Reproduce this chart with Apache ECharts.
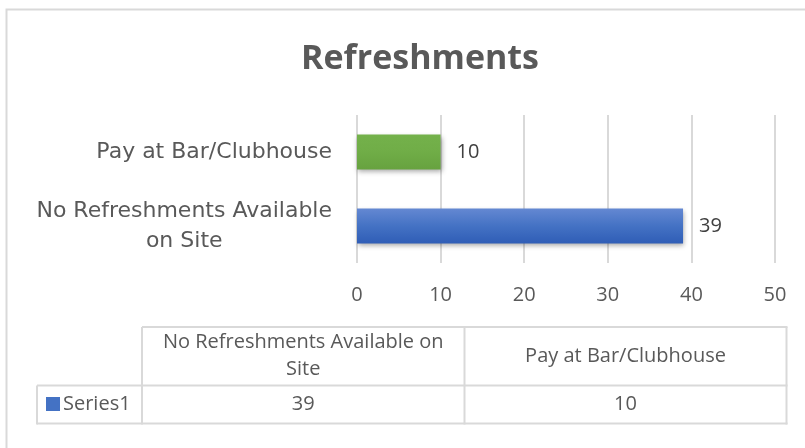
<!DOCTYPE html>
<html>
<head>
<meta charset="utf-8">
<script src="https://cdn.jsdelivr.net/npm/echarts@6/dist/echarts.min.js"></script>
<style>
html,body{margin:0;padding:0;background:#fff;}
#chart{width:805px;height:448px;}
</style>
</head>
<body>
<div id="chart"></div>
<script>
// ---- data ----
var titleText = 'Refreshments';
var categories = ['No Refreshments Available on Site', 'Pay at Bar/Clubhouse'];
var seriesName = 'Series1';
var values = [39, 10];
var xTicks = [0, 10, 20, 30, 40, 50];

// ---- styles ----
var catFamily = 'DejaVu Sans';
var catSize = 22;
var catFont = catSize + 'px "' + catFamily + '"';
var catWrap = 312;
var tableFontSize = 20;
var tableFontFamily = '"Open Sans"';
var gray = '#595959';
var lineGray = '#d9d9d9';

var measureCtx = document.createElement('canvas').getContext('2d');
function wrap(text, font, maxW) {
  measureCtx.font = font;
  var words = text.split(' '), lines = [], cur = '';
  words.forEach(function (w) {
    var t = cur ? cur + ' ' + w : w;
    if (cur && measureCtx.measureText(t).width > maxW) { lines.push(cur); cur = w; }
    else cur = t;
  });
  if (cur) lines.push(cur);
  return lines;
}
function maxWidth(lines, font) {
  measureCtx.font = font;
  return Math.max.apply(null, lines.map(function (l) { return measureCtx.measureText(l).width; }));
}

var barColors = [
  new echarts.graphic.LinearGradient(0, 0, 0, 1, [
    {offset: 0, color: '#6488d2'}, {offset: 0.5, color: '#4472c4'}, {offset: 1, color: '#2f5db6'}]),
  new echarts.graphic.LinearGradient(0, 0, 0, 1, [
    {offset: 0, color: '#74b14b'}, {offset: 0.5, color: '#70ad47'}, {offset: 1, color: '#67a23f'}])
];

var chart = echarts.init(document.getElementById('chart'), null, {renderer: 'canvas'});

// table geometry
var tX0 = 37, tX1 = 142, tX2 = 464.5, tX3 = 786.5;
var tY0 = 327, tY1 = 385.5, tY2 = 423.5;
var colCenters = [(tX1 + tX2) / 2, (tX2 + tX3) / 2];
var tableFont = tableFontSize + 'px ' + tableFontFamily;

var graphics = [];
// chart outer border
graphics.push({type: 'rect', shape: {x: 6.5, y: 9.5, width: 900, height: 600},
  style: {fill: null, stroke: lineGray, lineWidth: 2}, silent: true});
function hline(x1, x2, y) {
  graphics.push({type: 'line', shape: {x1: x1, y1: y, x2: x2, y2: y}, style: {stroke: lineGray, lineWidth: 2}});
}
function vline(x, y1, y2) {
  graphics.push({type: 'line', shape: {x1: x, y1: y1, x2: x, y2: y2}, style: {stroke: lineGray, lineWidth: 2}});
}
hline(tX1, tX3 + 1, tY0);
hline(tX0, tX3 + 1, tY1);
hline(tX0, tX3 + 1, tY2);
vline(tX0, tY1, tY2 + 1);
vline(tX1, tY0, tY2 + 1);
vline(tX2, tY0, tY2 + 1);
vline(tX3, tY0, tY2 + 1);

categories.forEach(function (c, i) {
  var lines = wrap(c, tableFont, 300);
  graphics.push({type: 'text', x: colCenters[i], y: (tY0 + tY1) / 2,
    style: {text: lines.join('\n'), font: tableFont, fill: gray, align: 'center', verticalAlign: 'middle', lineHeight: 27}});
  graphics.push({type: 'text', x: colCenters[i], y: (tY1 + tY2) / 2,
    style: {text: String(values[i]), font: tableFont, fill: gray, align: 'center', verticalAlign: 'middle'}});
});
graphics.push({type: 'rect', shape: {x: 46, y: 397, width: 14, height: 14}, style: {fill: '#4472c4'}});
graphics.push({type: 'text', x: 63, y: (tY1 + tY2) / 2,
  style: {text: seriesName, font: tableFont, fill: gray, align: 'left', verticalAlign: 'middle'}});

var option = {
  animation: false,
  backgroundColor: '#ffffff',
  title: {
    text: titleText, left: 415, top: 37, textAlign: 'center',
    textStyle: {fontFamily: 'Open Sans', fontWeight: 'bold', fontSize: 34, color: gray}
  },
  grid: {left: 357, top: 115, width: 418, height: 148, containLabel: false},
  xAxis: {
    type: 'value', min: xTicks[0], max: xTicks[xTicks.length - 1], interval: xTicks[1] - xTicks[0],
    axisLine: {show: false}, axisTick: {show: false},
    splitLine: {show: true, lineStyle: {color: lineGray, width: 2}},
    axisLabel: {fontFamily: 'Open Sans', fontSize: 20, color: gray, margin: 22}
  },
  yAxis: {
    type: 'category', data: categories,
    axisLine: {show: false}, axisTick: {show: false},
    axisLabel: {
      margin: 25, align: 'right', color: gray,
      fontFamily: catFamily, fontSize: catSize, lineHeight: 30,
      formatter: function (v) {
        var lines = wrap(v, catFont, catWrap);
        if (lines.length === 1) return v;
        return lines.map(function (l) { return '{c|' + l + '}'; }).join('\n');
      },
      rich: {c: {width: maxWidth(wrap(categories[0], catFont, catWrap), catFont), align: 'center',
        fontFamily: catFamily, fontSize: catSize, lineHeight: 30, color: gray}}
    }
  },
  series: [{
    type: 'bar', name: seriesName, barWidth: 35,
    data: values.map(function (v, i) {
      return {value: v, itemStyle: {color: barColors[i]}};
    }),
    itemStyle: {shadowBlur: 5, shadowOffsetX: 1, shadowOffsetY: 2, shadowColor: 'rgba(0,0,0,0.35)'},
    label: {show: true, position: 'right', distance: 16, fontFamily: 'Open Sans', fontSize: 20, color: '#404040'}
  }],
  graphic: graphics
};
chart.setOption(option);
</script>
</body>
</html>
